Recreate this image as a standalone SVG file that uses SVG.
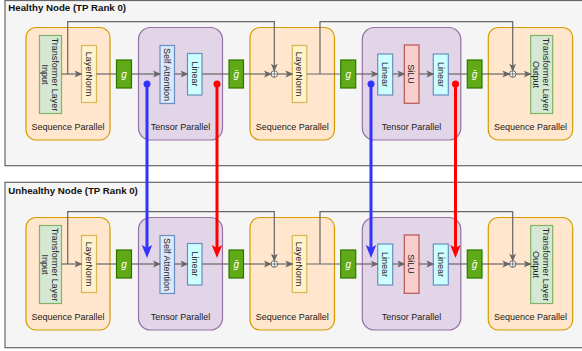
<svg xmlns="http://www.w3.org/2000/svg" width="582" height="351" viewBox="0 0 582 351">
<defs>
<style>
text{font-family:"Liberation Sans",Arial,Helvetica,sans-serif;fill:#222}
.panel{fill:#f5f5f5;stroke:#666;stroke-width:1.2}
.title{font-size:9.7px;font-weight:bold;fill:#111}
.sp{fill:#ffe6cc;stroke:#d79b00;stroke-width:1.2}
.tp{fill:#e1d5e7;stroke:#9673a6;stroke-width:1.2}
.tli{fill:#d5e8d4;stroke:#82b366;stroke-width:1.2}
.ln{fill:#fff2cc;stroke:#d6b656;stroke-width:1.2}
.g{fill:#60a917;stroke:#2d7600;stroke-width:1.2}
.sa{fill:#dae8fc;stroke:#6c8ebf;stroke-width:1.2}
.lin{fill:#ccffff;stroke:#6c8ebf;stroke-width:1.2}
.silu{fill:#f8cecc;stroke:#b85450;stroke-width:1.2}
.lbl{font-size:9px;text-anchor:middle}
.gt{font-size:10px;font-style:italic;fill:#fff;text-anchor:middle}
.c{fill:none;stroke:#666;stroke-width:1.2}
.ca{fill:none;stroke:#666;stroke-width:1.2;marker-end:url(#ah)}
.sum{fill:#fff;stroke:#666;stroke-width:1}
.blue{fill:none;stroke:#3333ff;stroke-width:3;marker-end:url(#ab)}
.red{fill:none;stroke:#ff0000;stroke-width:3;marker-end:url(#ar)}
</style>
<marker id="ah" markerUnits="userSpaceOnUse" markerWidth="8" markerHeight="8" viewBox="0 0 8 8" refX="7" refY="4" orient="auto"><path d="M0,0.6 L8,4 L0,7.4 L2,4 Z" fill="#666"/></marker>
<marker id="ab" markerUnits="userSpaceOnUse" markerWidth="13" markerHeight="12" viewBox="0 0 13 12" refX="5" refY="6" orient="auto"><path d="M0,0.8 L13,6 L0,11.2 L3,6 Z" fill="#3333ff"/></marker>
<marker id="ar" markerUnits="userSpaceOnUse" markerWidth="13" markerHeight="12" viewBox="0 0 13 12" refX="5" refY="6" orient="auto"><path d="M0,0.8 L13,6 L0,11.2 L3,6 Z" fill="#ff0000"/></marker>
<g id="row">
<g id="sp1"><rect class="sp" x="26" y="27.5" width="84" height="112.5" rx="10"/><text class="lbl" x="68" y="129.5">Sequence Parallel</text></g>
<g id="tli"><rect class="tli" x="39.5" y="35.5" width="22" height="78"/><text class="lbl" transform="translate(50,74.5) rotate(90)"><tspan x="0" y="-2.2">Transformer Layer</tspan><tspan x="0" y="8.5">Input</tspan></text></g>
<g id="ln1"><rect class="ln" x="81.5" y="45.5" width="15" height="57"/><text class="lbl" transform="translate(89,74) rotate(90)" y="3.2">LayerNorm</text></g>
<g id="g1"><rect class="g" x="116.5" y="60" width="15" height="28"/><text class="gt" x="124" y="77.5">g</text></g>
<g id="tp1"><rect class="tp" x="138.5" y="27.5" width="84" height="112.5" rx="12"/><text class="lbl" x="180.5" y="129.5">Tensor Parallel</text></g>
<g id="sa"><rect class="sa" x="160" y="45.5" width="14.5" height="58"/><text class="lbl" transform="translate(167.2,74.5) rotate(90)" y="3.2">Self Attention</text></g>
<g id="lin1"><rect class="lin" x="187.5" y="53.5" width="14.5" height="41.5"/><text class="lbl" transform="translate(194.8,74) rotate(90)" y="3.2">Linear</text></g>
<g id="g2"><rect class="g" x="229" y="60" width="14.5" height="28"/><text class="gt" x="236.2" y="77.5">ḡ</text></g>
<g id="sp2"><rect class="sp" x="250" y="27.5" width="84.5" height="112.5" rx="10"/><text class="lbl" x="292.3" y="129.5">Sequence Parallel</text></g>
<g id="ln2"><rect class="ln" x="292.3" y="45.5" width="14.5" height="57"/><text class="lbl" transform="translate(299.5,74) rotate(90)" y="3.2">LayerNorm</text></g>
<g id="g3"><rect class="g" x="340.7" y="60" width="15" height="28"/><text class="gt" x="348.2" y="77.5">g</text></g>
<g id="tp2"><rect class="tp" x="362.3" y="27.5" width="98.5" height="112.5" rx="12"/><text class="lbl" x="411.5" y="129.5">Tensor Parallel</text></g>
<g id="lin2"><rect class="lin" x="377.7" y="54" width="15" height="41"/><text class="lbl" transform="translate(385.2,74.5) rotate(90)" y="3.2">Linear</text></g>
<g id="silu"><rect class="silu" x="404.3" y="45" width="14.7" height="58.3"/><text class="lbl" transform="translate(411.6,74) rotate(90)" y="3.2">SiLU</text></g>
<g id="lin3"><rect class="lin" x="433.3" y="54" width="15" height="41"/><text class="lbl" transform="translate(440.8,74.5) rotate(90)" y="3.2">Linear</text></g>
<g id="g4"><rect class="g" x="467.3" y="60" width="14.7" height="28"/><text class="gt" x="474.6" y="77.5">ḡ</text></g>
<g id="sp3"><rect class="sp" x="488.3" y="27.5" width="84.4" height="112.5" rx="10"/><text class="lbl" x="530.5" y="129.5">Sequence Parallel</text></g>
<g id="out"><rect class="tli" x="530.7" y="35.5" width="22" height="78"/><text class="lbl" transform="translate(541.2,74.5) rotate(90)"><tspan x="0" y="-2.2">Transformer Layer</tspan><tspan x="0" y="8.5">Output</tspan></text></g>
<g id="connectors">
<path class="ca" d="M61.5,74H81.5"/>
<path class="ca" d="M67.7,74V21.7H274.3V70.7"/>
<path class="c" d="M96.5,74H116.5"/>
<path class="ca" d="M131.5,74H160"/>
<path class="ca" d="M174.5,74H187.5"/>
<path class="c" d="M202,74H229"/>
<path class="ca" d="M243.5,74H271"/>
<path class="ca" d="M277.6,74H292.3"/>
<path class="c" d="M306.8,74H340.7"/>
<path class="ca" d="M320,74V21.7H512.7V70.7"/>
<path class="ca" d="M355.7,74H377.7"/>
<path class="ca" d="M392.7,74H404.3"/>
<path class="ca" d="M419,74H433.3"/>
<path class="c" d="M448.3,74H467.3"/>
<path class="ca" d="M482,74H509.4"/>
<path class="ca" d="M516,74H530.7"/>
</g>
<g id="sum1"><circle class="sum" cx="274.3" cy="74" r="3.3"/><path d="M271,74H277.6M274.3,70.7V77.3" stroke="#666" stroke-width="0.8"/></g>
<g id="sum2"><circle class="sum" cx="512.7" cy="74" r="3.3"/><path d="M509.4,74H516M512.7,70.7V77.3" stroke="#666" stroke-width="0.8"/></g>
</g>
</defs>
<g id="healthy-node">
<rect class="panel" x="5" y="0.5" width="600" height="165.2"/>
<text class="title" x="8.3" y="11">Healthy Node (TP Rank 0)</text>
<use href="#row"/>
</g>
<g id="unhealthy-node">
<rect class="panel" x="5" y="182.3" width="600" height="165.4"/>
<text class="title" x="8.3" y="193.5">Unhealthy Node (TP Rank 0)</text>
<use href="#row" transform="translate(0,190)"/>
</g>
<g id="cross-connectors">
<circle cx="147" cy="84" r="3.5" fill="#3333ff"/>
<circle cx="217" cy="84" r="3.5" fill="#ff0000"/>
<circle cx="371" cy="84" r="3.5" fill="#3333ff"/>
<circle cx="455.5" cy="84" r="3.5" fill="#ff0000"/>
<path class="blue" d="M147,84V250"/>
<path class="red" d="M217,84V250"/>
<path class="blue" d="M371,84V250"/>
<path class="red" d="M455.5,84V250"/>
</g>
</svg>
